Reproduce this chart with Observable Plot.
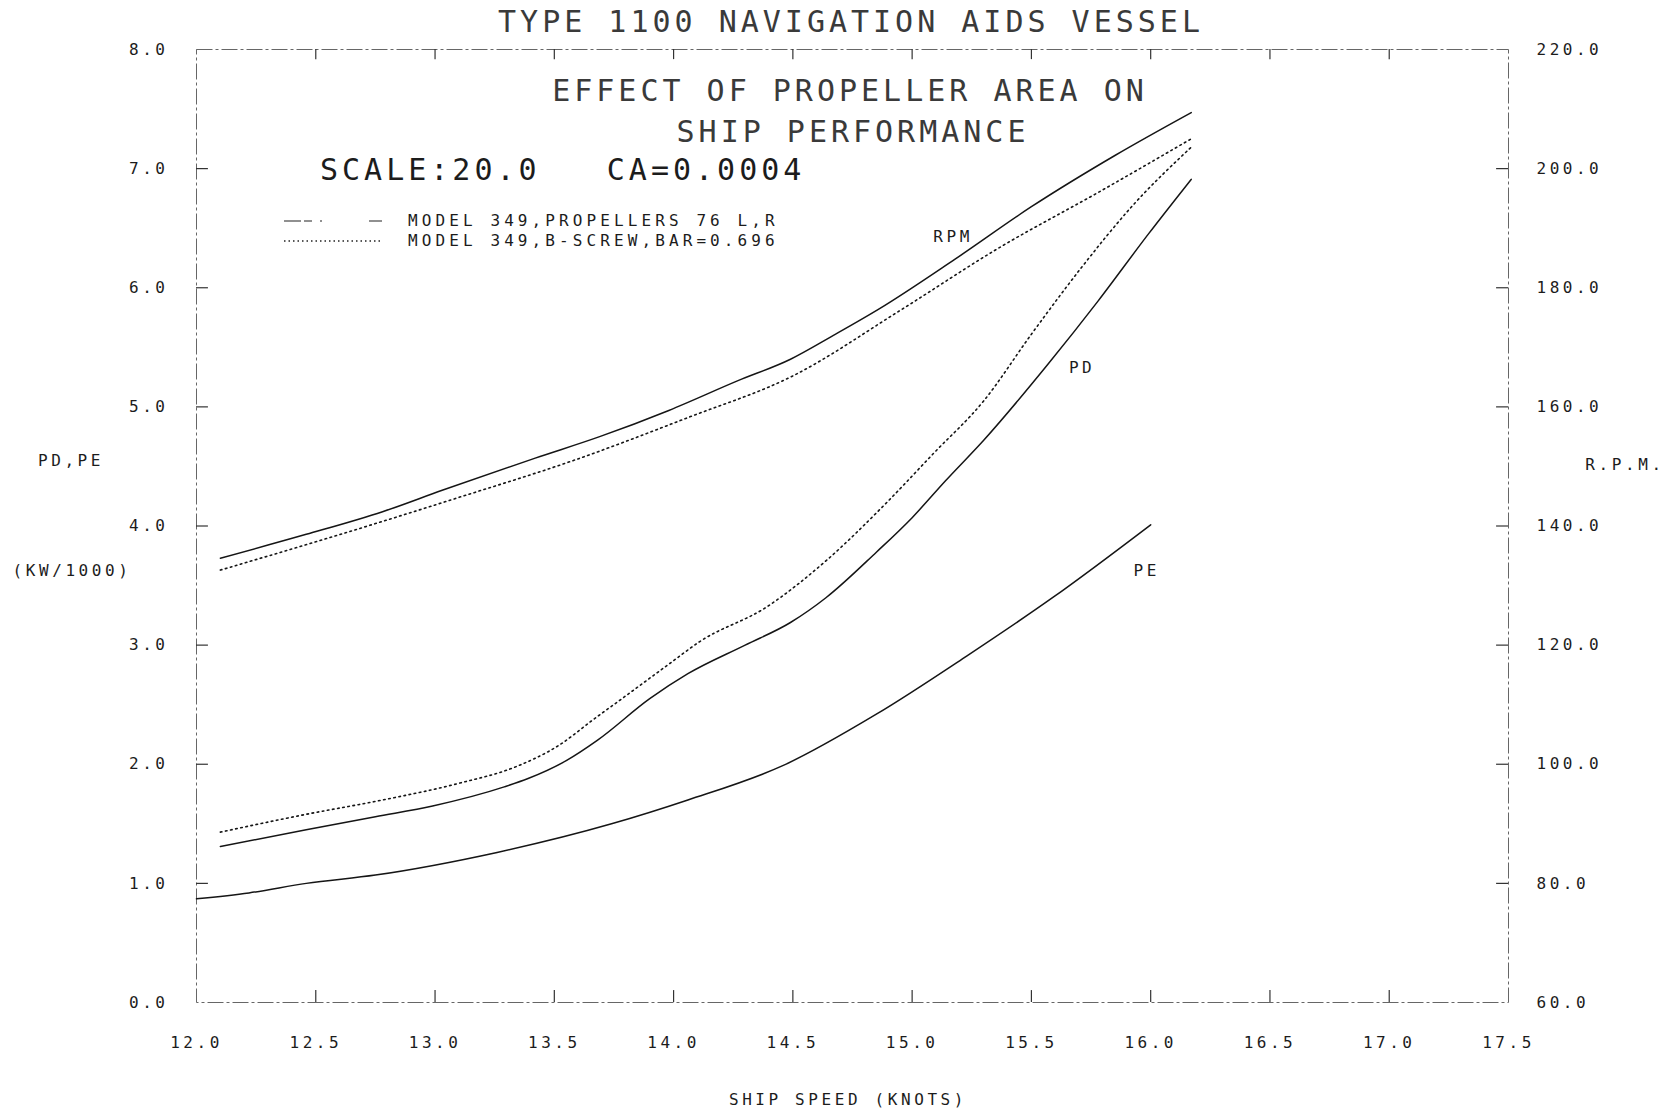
<!DOCTYPE html>
<html>
<head>
<meta charset="utf-8">
<script src="https://cdn.jsdelivr.net/npm/d3@7"></script>
<script src="https://cdn.jsdelivr.net/npm/@observablehq/plot@0.6"></script>
<style>
  body { margin: 0; background: #fff; }
  #wrap { position: relative; width: 1664px; height: 1111px; overflow: hidden;
          font-family: "DejaVu Sans Mono", monospace; color: #1c1c1c; }
  .t { position: absolute; white-space: pre; line-height: 1; }
  .c { transform: translate(-50%, -50%); }
  .l { transform: translate(0, -50%); }
  .big { font-size: 30px; letter-spacing: 4px; }
  .thin { color: #3a3a3a; }
  .small { font-size: 16px; letter-spacing: 3.6px; }
  .leg { font-size: 16px; letter-spacing: 4.1px; }
  #wrap svg text { letter-spacing: 3.5px; }
</style>
</head>
<body>
<div id="wrap">
  <div class="t c big thin" style="left:851px;top:22px;">TYPE 1100 NAVIGATION AIDS VESSEL</div>
  <div class="t c big thin" style="left:850px;top:91px;">EFFECT OF PROPELLER AREA ON</div>
  <div class="t c big thin" style="left:853px;top:132px;">SHIP PERFORMANCE</div>
  <div class="t l big" style="left:320px;top:170px;">SCALE:20.0   CA=0.0004</div>
  <svg style="position:absolute;left:0;top:0" width="420" height="260">
    <line x1="284" x2="382" y1="221" y2="221" stroke="#222" stroke-width="1.2" stroke-dasharray="17 3 8 8 2 47 13"/>
    <line x1="284" x2="382" y1="241" y2="241" stroke="#222" stroke-width="1.4" stroke-dasharray="1.5 3"/>
  </svg>
  <div class="t l leg" style="left:408px;top:221px;">MODEL 349,PROPELLERS 76 L,R</div>
  <div class="t l leg" style="left:408px;top:241px;">MODEL 349,B-SCREW,BAR=0.696</div>
  <div class="t c small" style="left:71px;top:461px;">PD,PE</div>
  <div class="t c small" style="left:72px;top:571px;">(KW/1000)</div>
  <div class="t c small" style="left:1625px;top:465px;">R.P.M.</div>
  <div class="t c small" style="left:848px;top:1100px;">SHIP SPEED (KNOTS)</div>
</div>
<script>
// ---- tick labels / axes ----
const speedTicks = [12.0, 12.5, 13.0, 13.5, 14.0, 14.5, 15.0, 15.5, 16.0, 16.5, 17.0, 17.5];
const powerTicks = [0, 1, 2, 3, 4, 5, 6, 7, 8];
const rpmTicks = [60, 80, 100, 120, 140, 160, 180, 200, 220];

// ---- RPM, propellers 76 L,R (solid) ----
const rpmPropSpeed = [12.1, 12.46, 12.78, 13.03, 13.42, 13.69, 13.98, 14.27, 14.49, 14.67, 14.86, 15.18, 15.5, 15.85, 16.17];
const rpmProp      = [134.6, 138.6, 142.4, 146.0, 151.4, 155.0, 159.4, 164.4, 168.0, 172.0, 176.4, 184.8, 193.6, 202.2, 209.4];
// ---- RPM, B-screw (dotted) ----
const rpmBSpeed = [12.1, 12.62, 13.1, 13.58, 14.06, 14.5, 14.95, 15.36, 15.78, 16.17];
const rpmB      = [132.6, 138.8, 144.8, 151.0, 158.2, 165.2, 176.2, 186.6, 196.0, 205.0];
// ---- PD, propellers 76 L,R (solid) ----
const pdPropSpeed = [12.1, 12.46, 12.75, 12.99, 13.29, 13.39, 13.55, 13.68, 13.9, 14.06, 14.3, 14.49, 14.64, 14.85, 15.0, 15.14, 15.3, 15.57, 15.78, 15.99, 16.17];
const pdProp      = [1.31, 1.45, 1.56, 1.65, 1.81, 1.88, 2.03, 2.20, 2.55, 2.76, 3.00, 3.19, 3.40, 3.78, 4.07, 4.38, 4.72, 5.36, 5.89, 6.45, 6.91];
// ---- PD, B-screw (dotted) ----
const pdBSpeed = [12.1, 12.46, 12.78, 13.1, 13.34, 13.52, 13.66, 13.79, 13.98, 14.11, 14.39, 14.64, 14.89, 15.09, 15.3, 15.5, 15.71, 15.92, 16.17];
const pdB      = [1.43, 1.58, 1.70, 1.84, 1.98, 2.16, 2.37, 2.56, 2.84, 3.03, 3.32, 3.71, 4.19, 4.61, 5.05, 5.61, 6.17, 6.68, 7.18];
// ---- PE ----
const peSpeed = [12.0, 12.22, 12.46, 12.75, 13.26, 13.74, 14.06, 14.46, 14.85, 15.23, 15.59, 16.0];
const pe      = [0.87, 0.92, 1.00, 1.07, 1.26, 1.50, 1.70, 1.99, 2.42, 2.91, 3.40, 4.01];

const zip = (xs, ys) => xs.map((x, i) => ({speed: x, v: ys[i]}));
const rpmToY = d3.scaleLinear([rpmTicks[0], rpmTicks[rpmTicks.length - 1]],
                              [powerTicks[0], powerTicks[powerTicks.length - 1]]);

const rpmPropData = zip(rpmPropSpeed, rpmProp).map(d => ({...d, v: rpmToY(d.v)}));
const rpmBData = zip(rpmBSpeed, rpmB).map(d => ({...d, v: rpmToY(d.v)}));
const pdPropData = zip(pdPropSpeed, pdProp);
const pdBData = zip(pdBSpeed, pdB);
const peData = zip(peSpeed, pe);

const xMin = speedTicks[0], xMax = speedTicks[speedTicks.length - 1];
const yMin = powerTicks[0], yMax = powerTicks[powerTicks.length - 1];
const ink = "#151515";
const solid = {x: "speed", y: "v", curve: "monotone-x", stroke: ink, strokeWidth: 1.5};
const dotted = {x: "speed", y: "v", curve: "monotone-x", stroke: ink, strokeWidth: 1.6, strokeDasharray: "1.6 3.6"};

const chart = Plot.plot({
  width: 1664,
  height: 1111,
  marginLeft: 196,
  marginRight: 156,
  marginTop: 49,
  marginBottom: 109,
  x: {domain: [xMin, xMax]},
  y: {domain: [yMin, yMax]},
  style: {fontFamily: "DejaVu Sans Mono, monospace", fontSize: "16px", color: "#1c1c1c", background: "#fff"},
  marks: [
    Plot.frame({stroke: "#666", strokeWidth: 1, strokeDasharray: "16 3 3 3"}),
    // inward ticks
    Plot.ruleY(powerTicks.slice(1, -1), {y: d => d, x1: xMin, x2: xMin + 0.05, stroke: "#333", strokeWidth: 1.2}),
    Plot.ruleY(rpmTicks.slice(1, -1).map(rpmToY), {y: d => d, x1: xMax - 0.05, x2: xMax, stroke: "#333", strokeWidth: 1.2}),
    Plot.ruleX(speedTicks.slice(1, -1), {x: d => d, y1: yMin, y2: yMin + 0.1, stroke: "#333", strokeWidth: 1.2}),
    Plot.ruleX(speedTicks.slice(1, -1), {x: d => d, y1: yMax - 0.085, y2: yMax, stroke: "#333", strokeWidth: 1.2}),
    // axes labels
    Plot.axisX(speedTicks, {tickSize: 0, tickPadding: 34, tickFormat: d => d.toFixed(1), label: null}),
    Plot.axisY(powerTicks, {anchor: "left", tickSize: 0, tickPadding: 28, tickFormat: d => d.toFixed(1), label: null}),
    Plot.axisY(rpmTicks.map(rpmToY), {anchor: "right", tickSize: 0, tickPadding: 28,
      tickFormat: d => rpmToY.invert(d).toFixed(1), label: null}),
    // curves
    Plot.line(rpmPropData, solid),
    Plot.line(rpmBData, dotted),
    Plot.line(pdPropData, solid),
    Plot.line(pdBData, dotted),
    Plot.line(peData, solid),
    // curve labels
    Plot.text(rpmPropData.filter(d => d.speed === 15.18), {x: "speed", y: "v", text: () => "RPM", dx: -2, dy: -22}),
    Plot.text(pdPropData.filter(d => d.speed === 15.57), {x: "speed", y: "v", text: () => "PD", dx: 34, dy: 4}),
    Plot.text(peData.filter(d => d.speed === 16.0), {x: "speed", y: "v", text: () => "PE", dx: -4, dy: 46})
  ]
});
chart.style.position = "absolute";
chart.style.left = "0";
chart.style.top = "0";
document.getElementById("wrap").prepend(chart);
</script>
</body>
</html>
